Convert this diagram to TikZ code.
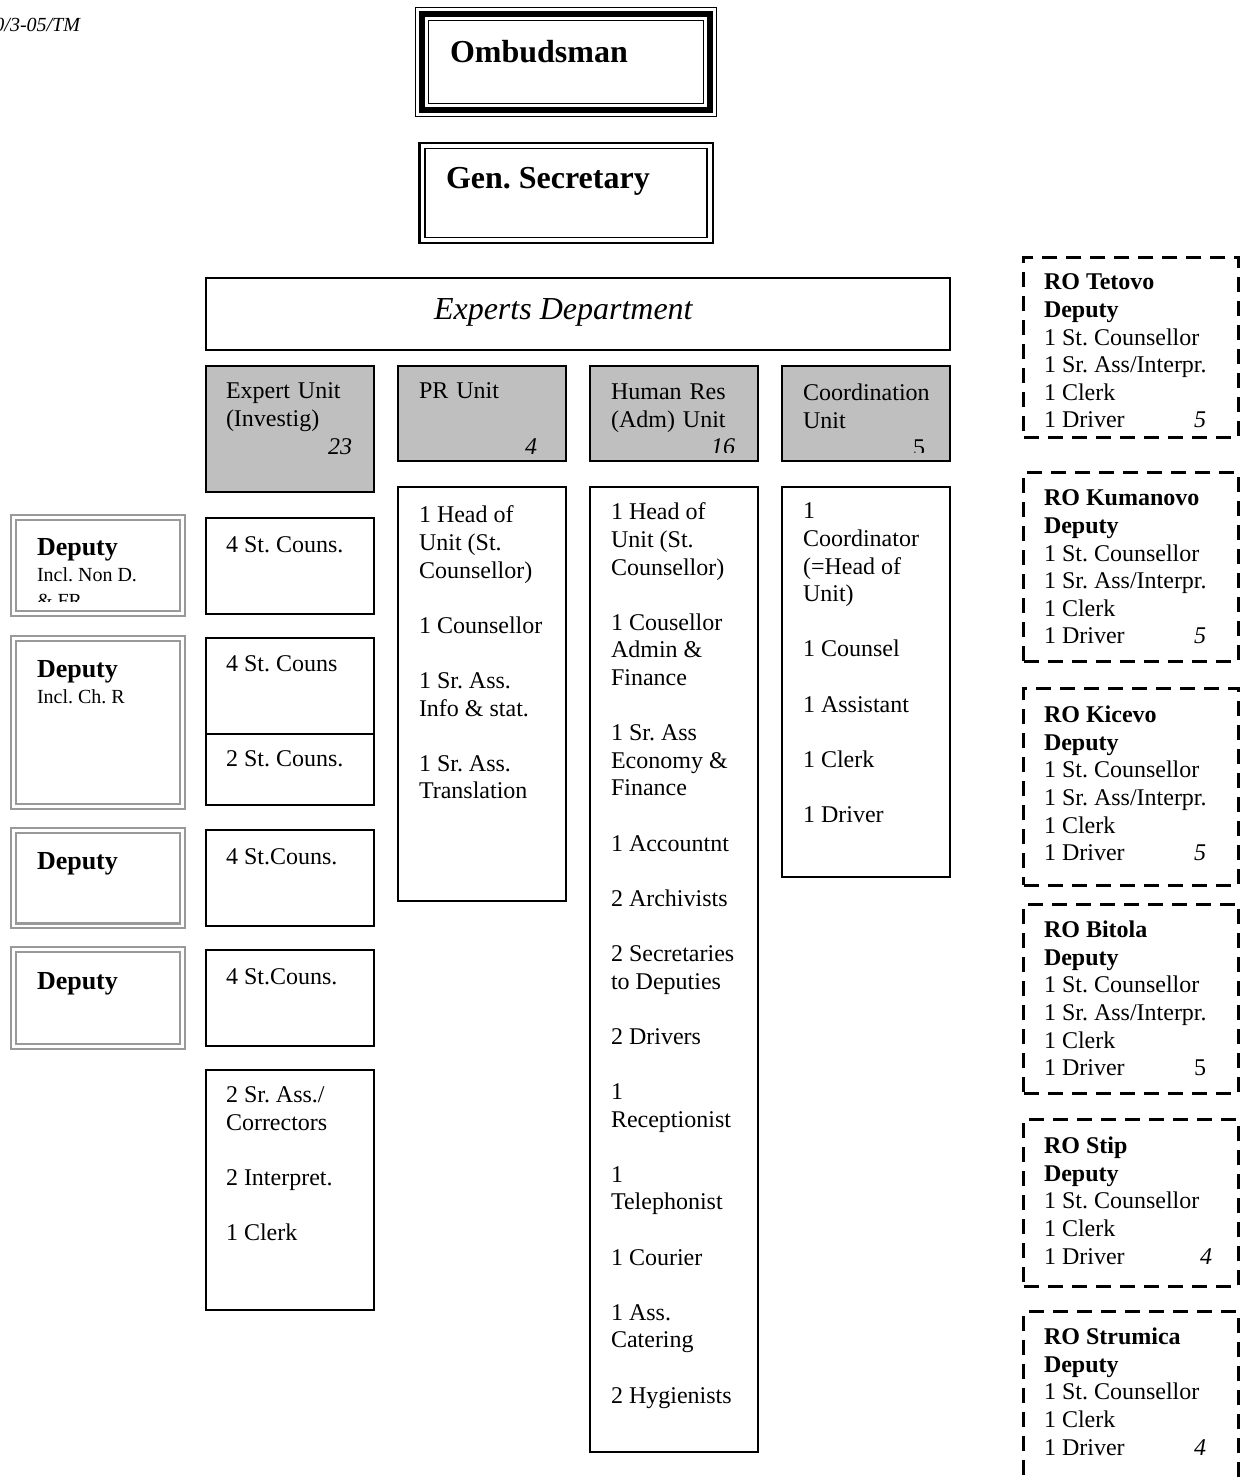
\documentclass[tikz,border=0pt]{standalone}
\usepackage{fontspec}
\setmainfont{Liberation Serif}
\usetikzlibrary{positioning}
\frenchspacing

\newcommand{\gapline}{\\[13.8pt]}
\newcommand{\staffline}[2]{\makebox[81pt][l]{#1\hfill #2}}

\begin{document}
\begin{tikzpicture}[x=0.5pt,y=-0.5pt,every node/.style={inner sep=0pt,outer sep=0pt},
frame/.style={draw,line width=1pt,anchor=north west},
unithead/.style={frame,fill=black!25},
deputy/.style={draw=black!40,line width=1.2pt,double=white,double distance=1.2pt,anchor=north west},
robox/.style={draw,line width=1.5pt,dash pattern=on 7.5pt off 4.5pt,anchor=north west},
txt/.style={anchor=north west,align=left,font=\fontsize{12}{13.8}\selectfont},
deptxt/.style={anchor=north west,align=left,font=\fontsize{10}{13}\selectfont}]
\clip (0,0) rectangle (1243,1477);
\node[anchor=base east,font=\fontsize{10}{12}\itshape] (ref) at (80,32) {0/3-05/TM};
% top of the chart
\node[draw,line width=0.6pt,anchor=north west,minimum width=150.5pt,minimum height=54.5pt] (omb) at (415.5,7.5) {};
\draw[line width=3pt] ([shift={(6.5,6.5)}]omb.north west) rectangle ([shift={(-6.5,-6.5)}]omb.south east);
\draw[line width=0.8pt] ([shift={(13,13)}]omb.north west) rectangle ([shift={(-13,-13)}]omb.south east);
\node[anchor=base west,font=\fontsize{16}{18}\bfseries] (ombT) at (450,62.5) {Ombudsman};
\node[draw,line width=1.2pt,anchor=north west,minimum width=146.6pt,minimum height=50.1pt] (gen) at (419.5,142.8) {};
\draw[line width=0.8pt] ([shift={(5.5,5.5)}]gen.north west) rectangle ([shift={(-5.5,-5.5)}]gen.south east);
\node[anchor=base west,font=\fontsize{16}{18}\bfseries] (genT) at (446,188.5) {Gen. Secretary};
\node[frame,minimum width=372pt,minimum height=35.75pt] (dept) at (206,278) {};
\node[anchor=base west,font=\fontsize{16}{18}\itshape] (deptT) at (434,319) {Experts Department};
% unit headers
\node[unithead,minimum width=84pt,minimum height=63pt] (exH) at (206,366) {};
\node[unithead,minimum width=84pt,minimum height=47.5pt] (prH) at (398,366) {};
\node[unithead,minimum width=84pt,minimum height=47.5pt] (hrH) at (590,366) {};
\node[unithead,minimum width=84pt,minimum height=47.5pt] (coH) at (782,366) {};
\node[txt,text width=63pt] (exHT) at (226,383) {Expert Unit\\(Investig)\\\hfill\textit{23}};
\node[txt,text width=59pt] (prHT) at (419,383) {PR Unit\gapline\hfill\textit{4}};
\begin{scope}
\clip (590,366) rectangle (950,452);
\node[txt,text width=62pt] (hrHT) at (611,384) {Human Res\\(Adm) Unit\\\hfill\textit{16}};
\node[txt,text width=61pt] (coHT) at (803,384) {Coordination\\Unit\\\hfill 5};
\end{scope}
% expert unit column
\node[frame,minimum width=84pt,minimum height=47.75pt] (ex1) at (206,518) {};
\node[frame,minimum width=84pt,minimum height=48.25pt] (ex2) at (206,637.5) {};
\node[frame,minimum width=84pt,minimum height=35.25pt] (ex3) at (206,734) {};
\node[frame,minimum width=84pt,minimum height=47.75pt] (ex4) at (206,830) {};
\node[frame,minimum width=84pt,minimum height=47.75pt] (ex5) at (206,950) {};
\node[frame,minimum width=84pt,minimum height=119.75pt] (ex6) at (206,1070) {};
\node[txt] (ex1T) at (226,537) {4 St. Couns.};
\node[txt] (ex2T) at (226,656) {4 St. Couns};
\node[txt] (ex3T) at (226,751) {2 St. Couns.};
\node[txt] (ex4T) at (226,849) {4 St.Couns.};
\node[txt] (ex5T) at (226,969) {4 St.Couns.};
\node[txt] (ex6T) at (226,1087) {2 Sr. Ass./\\Correctors\gapline 2 Interpret.\gapline 1 Clerk};
% other unit columns
\node[frame,minimum width=84pt,minimum height=207pt] (pr) at (398,487) {};
\node[frame,minimum width=84pt,minimum height=482.5pt] (hr) at (590,487) {};
\node[frame,minimum width=84pt,minimum height=195pt] (co) at (782,487) {};
\node[txt] (prT) at (419,506) {1 Head of\\Unit (St.\\Counsellor)\gapline 1 Counsellor\gapline 1 Sr. Ass.\\Info \& stat.\gapline 1 Sr. Ass.\\Translation};
\node[txt] (hrT) at (611,503) {1 Head of\\Unit (St.\\Counsellor)\gapline 1 Cousellor\\Admin \&\\Finance\gapline 1 Sr. Ass\\Economy \&\\Finance\gapline 1 Accountnt\gapline 2 Archivists\gapline 2 Secretaries\\to Deputies\gapline 2 Drivers\gapline 1\\Receptionist\gapline 1\\Telephonist\gapline 1 Courier\gapline 1 Ass.\\Catering\gapline 2 Hygienists};
\node[txt] (coT) at (803,503) {1\\Coordinator\\(=Head of\\Unit)\gapline 1 Counsel\gapline 1 Assistant\gapline 1 Clerk\gapline 1 Driver};
% deputies
\node[deputy,minimum width=84.4pt,minimum height=47.9pt] (dep1) at (13.6,517.6) {};
\node[deputy,minimum width=84.4pt,minimum height=83.9pt] (dep2) at (13.6,638.6) {};
\node[deputy,minimum width=84.4pt,minimum height=47.7pt] (dep3) at (13.6,830.3) {};
\node[deputy,minimum width=84.4pt,minimum height=48.4pt] (dep4) at (13.6,949.6) {};
\begin{scope}
\clip (16,520) rectangle (180,601);
\node[deptxt] (dep1T) at (37,538.5) {{\fontsize{13}{13}\bfseries Deputy}\\Incl. Non D.\\\& FR};
\end{scope}
\node[deptxt] (dep2T) at (37,660.5) {{\fontsize{13}{13}\bfseries Deputy}\\Incl. Ch. R};
\node[deptxt] (dep3T) at (37,852) {{\fontsize{13}{13}\bfseries Deputy}};
\node[deptxt] (dep4T) at (37,972) {{\fontsize{13}{13}\bfseries Deputy}};
% regional offices
\node[robox,minimum width=107.5pt,minimum height=89.75pt] (ro1) at (1023.5,257.5) {};
\node[robox,minimum width=107.5pt,minimum height=94.25pt] (ro2) at (1023.5,472.5) {};
\node[robox,minimum width=107.5pt,minimum height=98.5pt] (ro3) at (1023.5,688) {};
\node[robox,minimum width=107.5pt,minimum height=94.5pt] (ro4) at (1023.5,904) {};
\node[robox,minimum width=107.5pt,minimum height=83.25pt] (ro5) at (1023.5,1119.5) {};
\node[robox,minimum width=107.5pt,minimum height=95pt] (ro6) at (1023.5,1311.5) {};
\node[txt] (ro1T) at (1044,274) {\textbf{RO Tetovo}\\\textbf{Deputy}\\1 St. Counsellor\\1 Sr. Ass/Interpr.\\1 Clerk\\\staffline{1 Driver}{\textit{5}}};
\node[txt] (ro2T) at (1044,490) {\textbf{RO Kumanovo}\\\textbf{Deputy}\\1 St. Counsellor\\1 Sr. Ass/Interpr.\\1 Clerk\\\staffline{1 Driver}{\textit{5}}};
\node[txt] (ro3T) at (1044,706) {\textbf{RO Kicevo}\\\textbf{Deputy}\\1 St. Counsellor\\1 Sr. Ass/Interpr.\\1 Clerk\\\staffline{1 Driver}{\textit{5}}};
\node[txt] (ro4T) at (1044,921) {\textbf{RO Bitola}\\\textbf{Deputy}\\1 St. Counsellor\\1 Sr. Ass/Interpr.\\1 Clerk\\\staffline{1 Driver}{5}};
\node[txt] (ro5T) at (1044,1137) {\textbf{RO Stip}\\\textbf{Deputy}\\1 St. Counsellor\\1 Clerk\\\makebox[84pt][l]{1 Driver\hfill\textit{4}}};
\node[txt] (ro6T) at (1044,1328) {\textbf{RO Strumica}\\\textbf{Deputy}\\1 St. Counsellor\\1 Clerk\\\staffline{1 Driver}{\textit{4}}};
\end{tikzpicture}
\end{document}
